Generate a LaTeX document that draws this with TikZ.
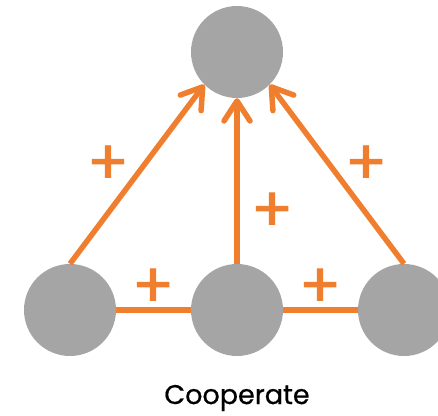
\documentclass[tikz,border=0pt]{standalone}
\usepackage{fontspec}
\setmainfont{Poppins}
\usetikzlibrary{arrows.meta, positioning}

\definecolor{dotgray}{HTML}{A5A5A5}
\definecolor{linkorange}{HTML}{EF7F2E}

\begin{document}
\begin{tikzpicture}[
x=1pt, y=1pt,
agent/.style={circle, fill=dotgray, minimum size=92pt, inner sep=0pt},
link/.style={draw=linkorange, line width=5.5pt},
line/.style={link, -{Straight Barb[length=20pt, width=26pt, round]}},
plus/.style={text=linkorange, font=\fontsize{62}{62}\selectfont\addfontfeatures{FakeBold=1.3}, inner sep=0pt}
]
\useasboundingbox (0,0) rectangle (438,415);
\clip (0,0) rectangle (438,415);

\node[agent] (top) at (237,363) {};
\node[agent] (left) at (70,105) {};
\node[agent] (mid) at (237,105) {};
\node[agent] (right) at (404,105) {};

\draw[line] (left.north) -- (top.-135);
\draw[line] (mid.north) -- (top.south);
\draw[line] (right.north) -- (top.-45);
\draw[link] (left.east) -- (mid.west);
\draw[link] (mid.east) -- (right.west);

\node[plus] (pleft) at (108,250) {+};
\node[plus] (pmid) at (272,203) {+};
\node[plus] (pright) at (366,250) {+};
\node[plus] (plow) at (153,127) {+};
\node[plus] (plowr) at (320,127) {+};

\node[font=\fontsize{27}{27}\selectfont\addfontfeatures{FakeBold=0.6}, anchor=base] (caption) at (237,11) {Cooperate};
\end{tikzpicture}
\end{document}
